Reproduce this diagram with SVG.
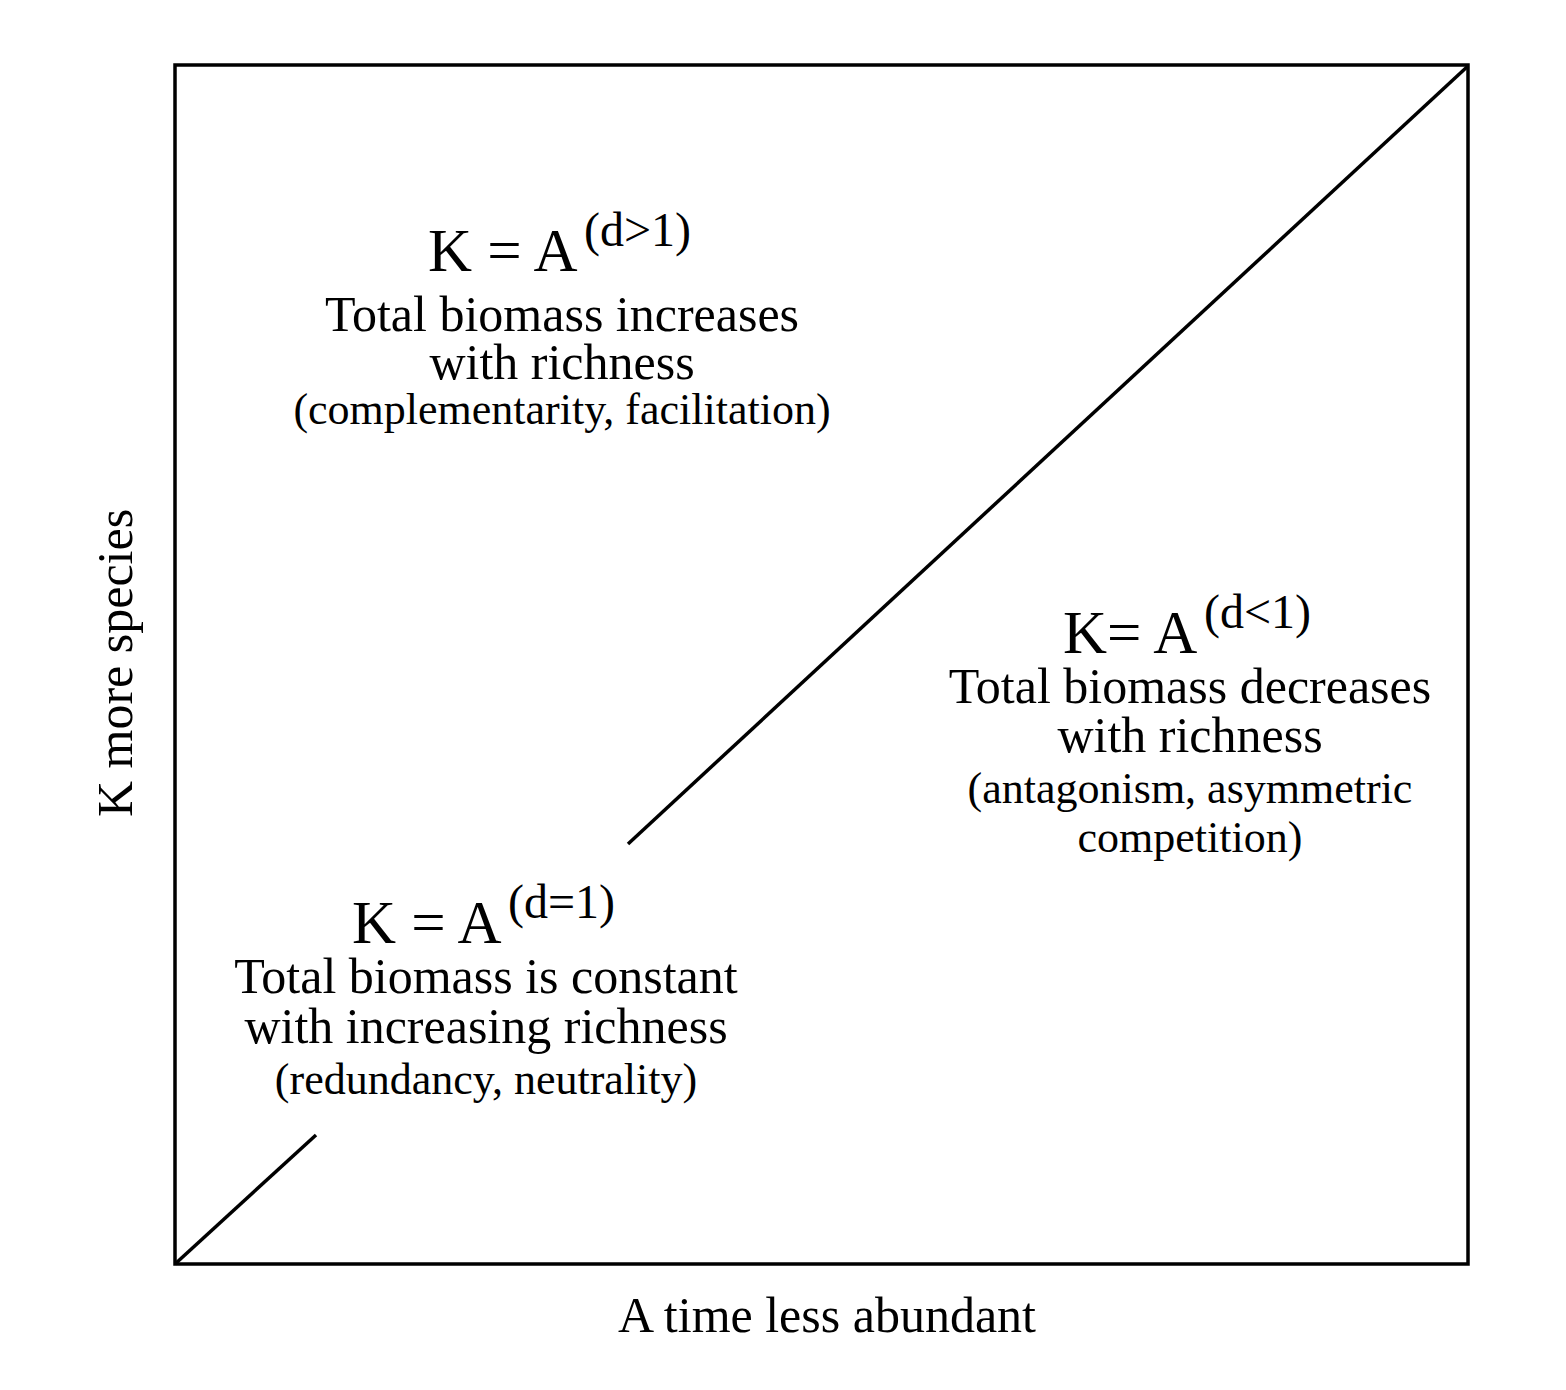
<svg xmlns="http://www.w3.org/2000/svg" width="1566" height="1390" viewBox="0 0 1566 1390">
<style>
text{font-family:"Liberation Serif","Times New Roman",serif;fill:#000}
.f{font-size:61px}.s{font-size:48px}.b{font-size:50px;text-anchor:middle}.p{font-size:44px;text-anchor:middle}
.ln{stroke:#000;stroke-width:3.5;fill:none}
</style>
<rect width="1566" height="1390" fill="#fff"/>
<g id="frame"><rect class="ln" x="175" y="65" width="1293" height="1199"/></g>
<g id="connectors">
<line class="ln" x1="175" y1="1264" x2="316" y2="1135"/>
<line class="ln" x1="628" y1="844" x2="1468" y2="66"/>
</g>
<g id="upper">
<text class="f" x="428" y="271">K = A</text><text class="s" x="584" y="246">(d&gt;1)</text>
<text class="b" x="562" y="331">Total biomass increases</text>
<text class="b" x="562" y="379">with richness</text>
<text class="p" x="562" y="424">(complementarity, facilitation)</text>
</g>
<g id="right">
<text class="f" x="1063" y="653">K= A</text><text class="s" x="1204" y="628">(d&lt;1)</text>
<text class="b" x="1190" y="703">Total biomass decreases</text>
<text class="b" x="1190" y="752">with richness</text>
<text class="p" x="1190" y="803">(antagonism, asymmetric</text>
<text class="p" x="1190" y="852">competition)</text>
</g>
<g id="lower">
<text class="f" x="352" y="943">K = A</text><text class="s" x="508" y="918">(d=1)</text>
<text class="b" x="486" y="993">Total biomass is constant</text>
<text class="b" x="486" y="1043">with increasing richness</text>
<text class="p" x="486" y="1094">(redundancy, neutrality)</text>
</g>
<g id="axes">
<text class="b" x="827" y="1332">A time less abundant</text>
<text class="b" transform="translate(132,663) rotate(-90)">K more species</text>
</g>
</svg>
